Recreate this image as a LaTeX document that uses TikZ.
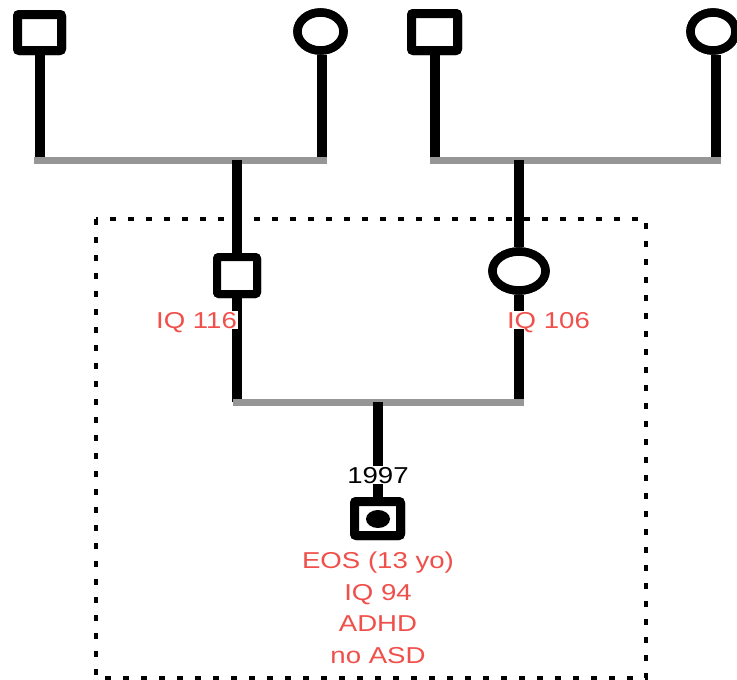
\documentclass[tikz,border=0pt]{standalone}
\usepackage{fontspec}
\usepackage{graphicx}
\setmainfont{Liberation Sans}
\usetikzlibrary{shapes.geometric}
\definecolor{redtxt}{RGB}{240,80,76}
\definecolor{graybar}{RGB}{150,150,150}
\newcommand\widetxt[1]{\scalebox{1.2}[1]{#1}}
\begin{document}
\begin{tikzpicture}[x=1pt,y=-1pt,
  male/.style={draw=black, line width=9pt, fill=white, rounded corners=2pt, inner sep=0pt},
  female/.style={ellipse, draw=black, line width=8.5pt, fill=white, inner sep=0pt},
  kin/.style={line width=10pt, black},
  bar/.style={line width=7pt, graybar},
  lbl/.style={font=\fontsize{23}{23}\selectfont, text height=16.5pt, text depth=0pt, fill=white, inner sep=1pt},
  redlbl/.style={lbl, text=redtxt},
  frame/.style={line width=4pt, black, dash pattern=on 6pt off 12pt}
]
\useasboundingbox[fill=white] (0,0) rectangle (737,680);
% dotted frame
\draw[frame] (96,219) rectangle (646,678);

% coordinates of sibship bars
\coordinate (b1L) at (34,160);
\coordinate (b1R) at (327,160);
\coordinate (b1M) at (237,160);
\coordinate (b2L) at (430,160);
\coordinate (b2R) at (721,160);
\coordinate (b2M) at (519,160);
\coordinate (b3L) at (233,402);
\coordinate (b3R) at (524,402);
\coordinate (b3M) at (377.5,402);

% persons
\node[male, minimum width=44pt, minimum height=36pt] (gf1) at (39.5,32.5) {};
\node[female, minimum width=46pt, minimum height=38pt] (gm1) at (320.5,31.5) {};
\node[male, minimum width=46pt, minimum height=37pt] (gf2) at (434.5,32) {};
\node[female, minimum width=45pt, minimum height=38pt] (gm2) at (713,31.5) {};
\node[male, line width=8pt, minimum width=40pt, minimum height=37pt] (fa) at (237,275.5) {};
\node[female, minimum width=53pt, minimum height=39pt] (mo) at (519,271) {};
\node[male, minimum width=46pt, minimum height=34pt] (ch) at (377.5,518.5) {};

% connectors
\draw[kin] (gf1.south) -- (gf1.south |- b1L);
\draw[kin] ([xshift=1.5pt]gm1.south) -- ([xshift=1.5pt]gm1.south |- b1R);
\draw[kin] (gf2.south) -- (gf2.south |- b2L);
\draw[kin] ([xshift=3pt]gm2.south) -- ([xshift=3pt]gm2.south |- b2R);
\draw[bar] (b1L) -- (b1R);
\draw[bar] (b2L) -- (b2R);
\draw[kin] (b1M) -- (fa.north);
\draw[kin] (b2M) -- (mo.north);
\draw[kin] (fa.south) -- (fa.south |- b3L);
\draw[kin] (mo.south) -- (mo.south |- b3R);
\draw[bar] (b3L) -- (b3R);
\draw[kin] (b3M) -- (ch.north);

% redraw persons on top
\node[male, minimum width=44pt, minimum height=36pt] at (gf1) {};
\node[female, minimum width=46pt, minimum height=38pt] at (gm1) {};
\node[male, minimum width=46pt, minimum height=37pt] at (gf2) {};
\node[female, minimum width=45pt, minimum height=38pt] at (gm2) {};
\node[male, line width=8pt, minimum width=40pt, minimum height=37pt] at (fa) {};
\node[female, minimum width=53pt, minimum height=39pt] at (mo) {};
\node[male, minimum width=46pt, minimum height=34pt] at (ch) {};
\node[ellipse, fill=black, minimum width=24pt, minimum height=18pt, inner sep=0pt] (dot) at (378,519) {};

% labels
\node[redlbl] (l1) at (196.5,320) {\widetxt{IQ 116}};
\node[redlbl] (l2) at (548.5,320) {\widetxt{IQ 106}};
\node[lbl] (yr) at (378,475) {\widetxt{1997}};
\node[redlbl] (c1) at (378,560) {\widetxt{EOS (13 yo)}};
\node[redlbl] (c2) at (378,592) {\widetxt{IQ 94}};
\node[redlbl] (c3) at (378,623.5) {\widetxt{ADHD}};
\node[redlbl] (c4) at (378,655) {\widetxt{no ASD}};
\end{tikzpicture}
\end{document}
